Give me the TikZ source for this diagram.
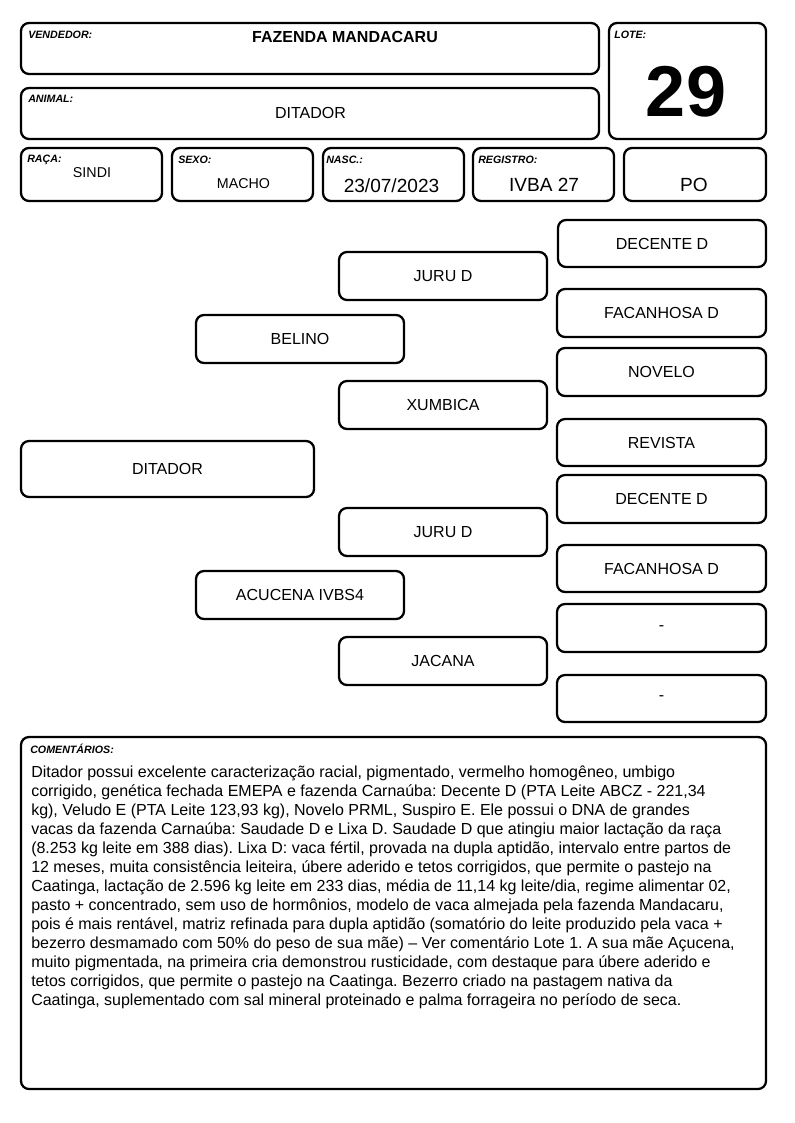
\documentclass[tikz,border=0pt]{standalone}
\usepackage{fontspec}
\setmainfont{Liberation Sans}
\frenchspacing
\usetikzlibrary{fit}
\tikzset{
  box/.style={draw, line width=1.7pt, rounded corners=6pt, inner sep=0pt},
  btxt/.style={anchor=center, inner sep=0pt, font=\fontsize{12}{14}\selectfont},
  lab/.style={anchor=base west, inner sep=0pt, font=\fontsize{8}{9}\selectfont\bfseries\itshape},
  val/.style={anchor=base, inner sep=0pt, font=\fontsize{12}{14}\selectfont},
  bigval/.style={anchor=base, inner sep=0pt, font=\fontsize{14.3}{16}\selectfont},
  cmt/.style={anchor=base west, inner sep=0pt, font=\fontsize{12}{14}\selectfont},
}
\newcommand\pbox[6]{\node[box, fit={(#2,#3)(#4,#5)}] (#1) {};\node[btxt] (#1t) at (#1.center) {#6};}
\begin{document}
\begin{tikzpicture}[x=0.75pt,y=-0.75pt]
\useasboundingbox (0,0) rectangle (794,1123);
% header
\pbox{vend}{21}{23}{599}{74}{}
\pbox{lote}{609}{23}{766}{139}{}
\pbox{anim}{21}{88}{599}{139}{}
\pbox{raca}{21}{148}{162}{201}{}
\pbox{sexo}{172}{148}{313}{201}{}
\pbox{nasc}{323}{148}{464}{201}{}
\pbox{reg}{473}{148}{614}{201}{}
\pbox{po}{624}{148}{766}{201}{}
\node[lab] (lvend) at (28,39) {VENDEDOR:};
\node[lab] (llote) at (614,39) {LOTE:};
\node[lab] (lanim) at (28,103) {ANIMAL:};
\node[lab] (lraca) at (27,163) {RAÇA:};
\node[lab] (lsexo) at (178,164) {SEXO:};
\node[lab] (lnasc) at (326,164) {NASC.:};
\node[lab] (lreg) at (478,164) {REGISTRO:};
\node[val, font=\fontsize{12}{14}\selectfont\bfseries] (tvend) at (345,43) {FAZENDA MANDACARU};
\node[val, font=\fontsize{54}{60}\selectfont\bfseries] (tlote) at (686,117) {29};
\node[val] (tanim) at (310.5,119) {DITADOR};
\node[val, font=\fontsize{10.7}{12}\selectfont] (traca) at (92,178) {SINDI};
\node[val, font=\fontsize{10.7}{12}\selectfont] (tsexo) at (243.5,189) {MACHO};
\node[bigval] (tnasc) at (391.5,193) {23/07/2023};
\node[bigval] (treg) at (544,192) {IVBA 27};
\node[bigval] (tpo) at (694,192) {PO};
% pedigree
\pbox{p1}{558}{220}{766}{267}{DECENTE D}
\pbox{p2}{339}{252}{547}{300}{JURU D}
\pbox{p3}{557}{289}{766}{337}{FACANHOSA D}
\pbox{p4}{196}{315}{404}{363}{BELINO}
\pbox{p5}{557}{348}{766}{396}{NOVELO}
\pbox{p6}{339}{381}{547}{429}{XUMBICA}
\pbox{p7}{557}{419}{766}{466}{REVISTA}
\pbox{p8}{21}{441}{314}{497}{DITADOR}
\pbox{p9}{557}{475}{766}{523}{DECENTE D}
\pbox{p10}{339}{508}{547}{556}{JURU D}
\pbox{p11}{557}{545}{766}{592}{FACANHOSA D}
\pbox{p12}{196}{571}{404}{619}{ACUCENA IVBS4}
\pbox{p13}{557}{604}{766}{652}{-}
\pbox{p14}{339}{637}{547}{685}{JACANA}
\pbox{p15}{557}{675}{766}{722}{-}
% comments
\pbox{com}{21}{737}{766}{1089}{}
\node[lab] (lcom) at (30,753) {COMENTÁRIOS:};
\foreach \t [count=\i] in {
{Ditador possui excelente caracterização racial, pigmentado, vermelho homogêneo, umbigo},
{corrigido, genética fechada EMEPA e fazenda Carnaúba: Decente D (PTA Leite ABCZ - 221,34},
{kg), Veludo E (PTA Leite 123,93 kg), Novelo PRML, Suspiro E. Ele possui o DNA de grandes},
{vacas da fazenda Carnaúba: Saudade D e Lixa D. Saudade D que atingiu maior lactação da raça},
{(8.253 kg leite em 388 dias). Lixa D: vaca fértil, provada na dupla aptidão, intervalo entre partos de},
{12 meses, muita consistência leiteira, úbere aderido e tetos corrigidos, que permite o pastejo na},
{Caatinga, lactação de 2.596 kg leite em 233 dias, média de 11,14 kg leite/dia, regime alimentar 02,},
{pasto + concentrado, sem uso de hormônios, modelo de vaca almejada pela fazenda Mandacaru,},
{pois é mais rentável, matriz refinada para dupla aptidão (somatório do leite produzido pela vaca +},
{bezerro desmamado com 50\% do peso de sua mãe) – Ver comentário Lote 1. A sua mãe Açucena,},
{muito pigmentada, na primeira cria demonstrou rusticidade, com destaque para úbere aderido e},
{tetos corrigidos, que permite o pastejo na Caatinga. Bezerro criado na pastagem nativa da},
{Caatinga, suplementado com sal mineral proteinado e palma forrageira no período de seca.}}
{\node[cmt] (c\i) at (31,758+19*\i) {\t};}
\end{tikzpicture}
\end{document}
